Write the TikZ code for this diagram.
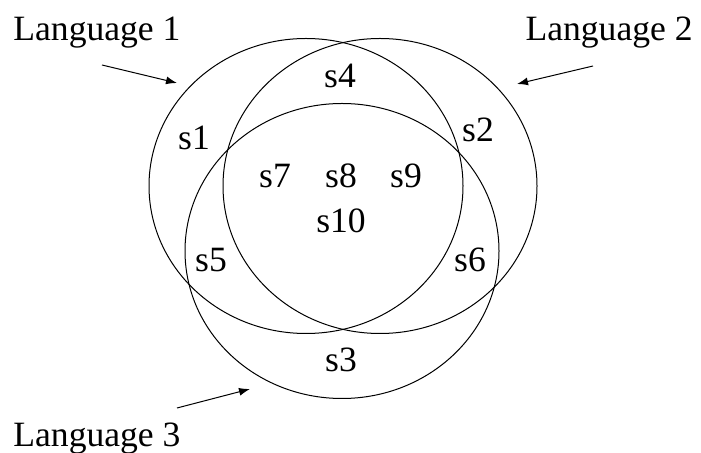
\documentclass[tikz,border=0pt]{standalone}
\usepackage{fontspec}
\setmainfont{Liberation Serif}
\usetikzlibrary{arrows.meta}

\begin{document}
\begin{tikzpicture}[x=0.5pt,y=-0.5pt,
    lbl/.style={font=\fontsize{17.8pt}{20pt}\selectfont, inner sep=0pt},
    ptr/.style={-{Latex[length=5.5pt,width=4pt]}, line width=0.5pt}]
    \useasboundingbox (0,0) rectangle (701,453);

    % the three languages
    \draw[line width=0.5pt] (306,186) ellipse (157 and 147.5);
    \draw[line width=0.5pt] (380,186) ellipse (157 and 147.5);
    \draw[line width=0.5pt] (342,251) ellipse (157 and 147.5);

    % regions
    \node[lbl, anchor=base] (s1) at (194,150) {s1};
    \node[lbl, anchor=base] (s2) at (478,142) {s2};
    \node[lbl, anchor=base] (s3) at (341,372) {s3};
    \node[lbl, anchor=base] (s4) at (340,88) {s4};
    \node[lbl, anchor=base] (s5) at (211,272) {s5};
    \node[lbl, anchor=base] (s6) at (470,272) {s6};
    \node[lbl, anchor=base] (s7) at (275,188) {s7};
    \node[lbl, anchor=base] (s8) at (341,188) {s8};
    \node[lbl, anchor=base] (s9) at (406,188) {s9};
    \node[lbl, anchor=base] (s10) at (341,233) {s10};

    % names and pointers
    \node[lbl, anchor=base west] (lang1) at (13,41) {Language 1};
    \node[lbl, anchor=base east] (lang2) at (693,41) {Language 2};
    \node[lbl, anchor=base west] (lang3) at (13,447) {Language 3};

    \coordinate (p1a) at (102,65);  \coordinate (p1b) at (177,83);
    \coordinate (p2a) at (593,66);  \coordinate (p2b) at (517,84);
    \coordinate (p3a) at (177,408); \coordinate (p3b) at (250,389);
    \draw[ptr] (p1a) -- (p1b);
    \draw[ptr] (p2a) -- (p2b);
    \draw[ptr] (p3a) -- (p3b);
\end{tikzpicture}
\end{document}
